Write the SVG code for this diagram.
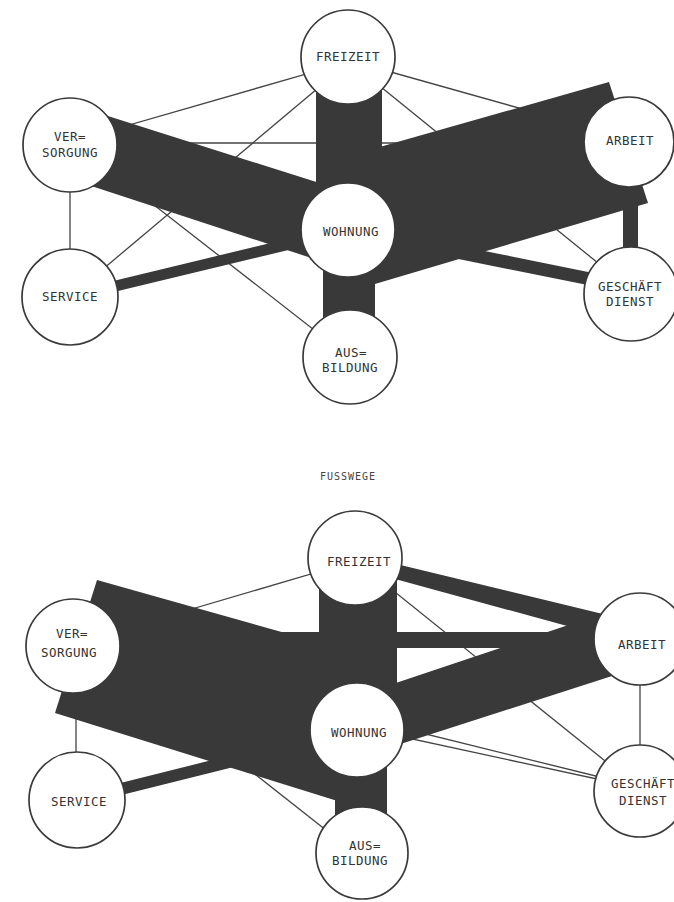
<svg xmlns="http://www.w3.org/2000/svg" width="674" height="902" viewBox="0 0 674 902">
<style>
.band{fill:#393939;stroke:none}
.bl{stroke:#393939;fill:none;stroke-linecap:butt}
.thin{stroke:#444;stroke-width:1.3;fill:none}
.node circle{fill:#fff;stroke:#3a3a3a;stroke-width:1.7}
.node text{font-family:"DejaVu Sans Mono","Liberation Mono",monospace;font-size:12.5px;letter-spacing:0.5px;fill:#333;text-anchor:middle}
.cap{font-family:"DejaVu Sans Mono","Liberation Mono",monospace;font-size:10px;letter-spacing:1px;fill:#444;text-anchor:middle}
</style>
<rect width="674" height="902" fill="#fff"/>

<!-- TOP DIAGRAM -->
<g id="top-connectors">
  <line class="thin" x1="348" y1="62" x2="70" y2="142"/>
  <line class="thin" x1="330" y1="78" x2="90" y2="280"/>
  <line class="thin" x1="70" y1="143" x2="629" y2="143"/>
  <line class="thin" x1="348" y1="60" x2="629" y2="139"/>
  <line class="thin" x1="360" y1="70" x2="630" y2="289"/>
  <line class="thin" x1="70" y1="145" x2="70" y2="297"/>
  <line class="thin" x1="90" y1="155" x2="350" y2="358"/>
  <polygon class="band" points="70,104 348,192 348,270 70,179"/>
  <line class="bl" x1="70" y1="297" x2="348" y2="230" stroke-width="11"/>
  <rect class="band" x="316" y="57" width="66" height="173"/>
  <rect class="band" x="323" y="230" width="52" height="127"/>
  <polygon class="band" points="609,82 648,203 348,292 348,156"/>
  <rect class="band" x="623" y="142" width="15" height="152"/>
  <line class="bl" x1="348" y1="230" x2="630" y2="287" stroke-width="13"/>
</g>
<g id="top-freizeit" class="node"><circle cx="348" cy="57" r="47"/><text x="348" y="61">FREIZEIT</text></g>
<g id="top-versorgung" class="node"><circle cx="70" cy="145" r="47"/><text x="70" y="141">VER=</text><text x="70" y="157">SORGUNG</text></g>
<g id="top-arbeit" class="node"><circle cx="629" cy="142" r="45"/><text x="630" y="145">ARBEIT</text></g>
<g id="top-wohnung" class="node"><circle cx="348" cy="230" r="47"/><text x="351" y="236">WOHNUNG</text></g>
<g id="top-service" class="node"><circle cx="70" cy="297" r="48"/><text x="70" y="301">SERVICE</text></g>
<g id="top-geschaeft" class="node"><circle cx="631" cy="294" r="47"/><text x="630" y="291">GESCHÄFT</text><text x="630" y="306">DIENST</text></g>
<g id="top-ausbildung" class="node"><circle cx="350" cy="357" r="47"/><text x="351" y="357">AUS=</text><text x="350" y="372">BILDUNG</text></g>

<text class="cap" x="348" y="480">FUSSWEGE</text>

<!-- BOTTOM DIAGRAM -->
<g id="bottom-connectors">
  <line class="thin" x1="355" y1="561" x2="73" y2="644"/>
  <line class="thin" x1="76" y1="646" x2="76" y2="800"/>
  <line class="thin" x1="100" y1="652" x2="350" y2="849"/>
  <line class="thin" x1="370" y1="572" x2="640" y2="789"/>
  <line class="thin" x1="640" y1="639" x2="640" y2="791"/>
  <line class="thin" x1="357" y1="727" x2="620" y2="784"/>
  <line class="thin" x1="357" y1="717" x2="620" y2="782"/>
  <rect class="band" x="73" y="632" width="567" height="16"/>
  <polygon class="band" points="97,580 55,713 360,808 360,654"/>
  <line class="bl" x1="77" y1="800" x2="357" y2="730" stroke-width="12"/>
  <rect class="band" x="319" y="558" width="78" height="172"/>
  <rect class="band" x="335" y="730" width="52" height="122"/>
  <polygon class="band" points="355,554 640,623 640,646 355,568"/>
  <polygon class="band" points="357,696 640,601 640,667 357,758"/>
</g>
<g id="bottom-freizeit" class="node"><circle cx="355" cy="558" r="47"/><text x="359" y="566">FREIZEIT</text></g>
<g id="bottom-versorgung" class="node"><circle cx="73" cy="646" r="47"/><text x="72" y="638">VER=</text><text x="69" y="657">SORGUNG</text></g>
<g id="bottom-arbeit" class="node"><circle cx="640" cy="639" r="46"/><text x="642" y="649">ARBEIT</text></g>
<g id="bottom-wohnung" class="node"><circle cx="357" cy="730" r="47"/><text x="359" y="737">WOHNUNG</text></g>
<g id="bottom-service" class="node"><circle cx="77" cy="800" r="48"/><text x="79" y="806">SERVICE</text></g>
<g id="bottom-geschaeft" class="node"><circle cx="640" cy="791" r="46"/><text x="643" y="788">GESCHÄFT</text><text x="643" y="805">DIENST</text></g>
<g id="bottom-ausbildung" class="node"><circle cx="362" cy="853" r="46"/><text x="365" y="850">AUS=</text><text x="360" y="865">BILDUNG</text></g>
</svg>
